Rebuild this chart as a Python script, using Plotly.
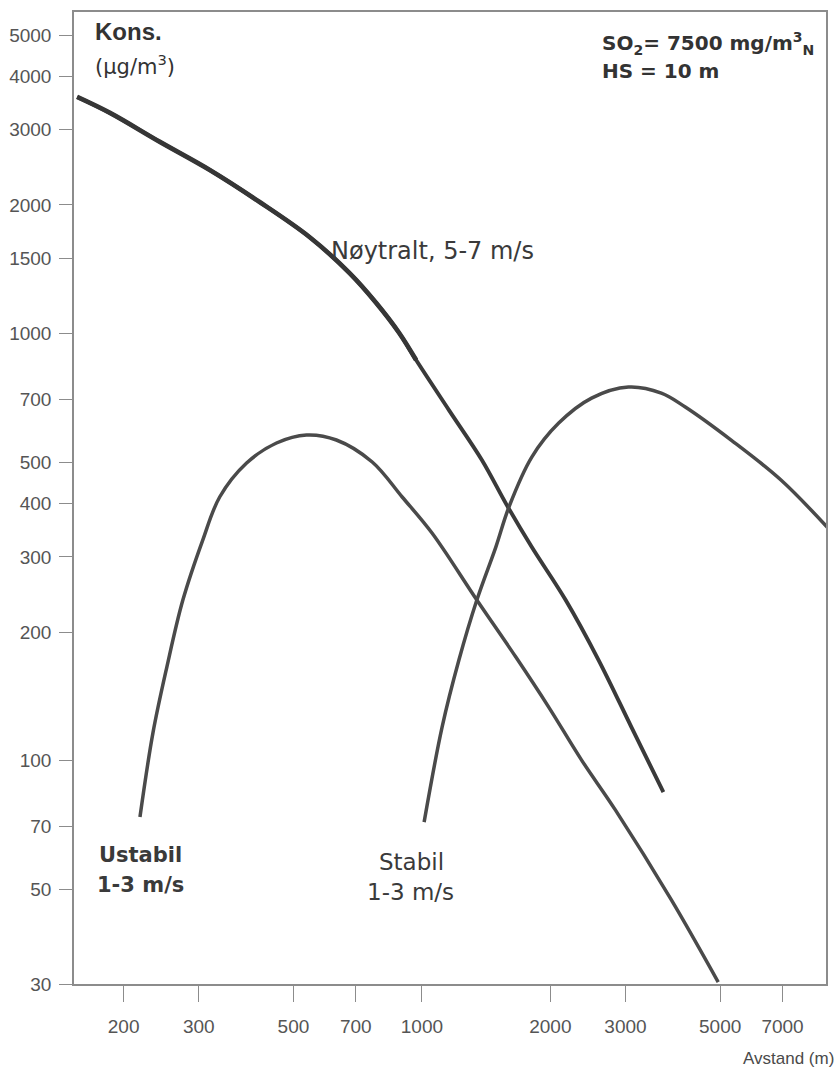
import plotly.graph_objects as go
import math

# --- data ---
noytralt_x = [155.6, 185.8, 243.2, 318.3, 416.6, 545.1, 676, 781.6, 884.6, 969.2, 1157, 1382, 1581, 1809, 2172, 2594, 3097, 3680]
noytralt_y = [3581, 3285, 2810, 2415, 2032, 1683, 1387, 1179, 1003, 867, 662, 505.8, 396.6, 316.3, 237.7, 172, 119.8, 84.4]

ustabil_x = [218.4, 234.2, 252.5, 275.3, 306.5, 335.8, 388.3, 456.3, 536.4, 630.3, 764.8, 898.9, 1056, 1345, 1660, 1982, 2367, 2842, 3842, 4947]
ustabil_y = [73.8, 116, 165.6, 237.7, 328.5, 414.3, 497.6, 554.2, 578.7, 563.3, 500.3, 414.3, 341.1, 237.7, 174.8, 133.5, 100.3, 76.6, 47.2, 30.3]

stabil_x = [1012, 1115, 1221, 1345, 1490, 1599, 1809, 2092, 2498, 3048, 3640, 4142, 5305, 6941, 9036]
stabil_y = [71.8, 119.8, 172, 237.7, 316.3, 392.3, 513.7, 617, 706, 749.5, 725.5, 673, 563, 454, 346.7]

x_ticks = [200, 300, 500, 700, 1000, 2000, 3000, 5000, 7000]
y_ticks = [30, 50, 70, 100, 200, 300, 400, 500, 700, 1000, 1500, 2000, 3000, 4000, 5000]

x_range = [153, 8850]
y_range = [30, 5660]

# --- layout geometry (page pixels) ---
SANS = "Liberation Sans, Arial, sans-serif"
WIDE = "DejaVu Sans, Verdana, sans-serif"
W, H = 836, 1070
PL, PR, PT, PB = 74, 828, 12, 984          # plot area in page pixels

def px(xp):
    return (xp - PL) / (PR - PL)

def py(yp):
    return (PB - yp) / (PB - PT)

THICK_N = 10  # upper, heavier-inked part of the neutral curve
fig = go.Figure()
fig.add_trace(go.Scatter(x=noytralt_x, y=noytralt_y, mode="lines",
                         line=dict(color="#3a3a3a", width=3.9, shape="spline", smoothing=1.0)))
fig.add_trace(go.Scatter(x=noytralt_x[:THICK_N], y=noytralt_y[:THICK_N], mode="lines",
                         line=dict(color="#363636", width=4.7, shape="spline", smoothing=1.0)))
fig.add_trace(go.Scatter(x=ustabil_x, y=ustabil_y, mode="lines",
                         line=dict(color="#4a4a4a", width=3.5, shape="spline", smoothing=1.0)))
fig.add_trace(go.Scatter(x=stabil_x, y=stabil_y, mode="lines",
                         line=dict(color="#4a4a4a", width=3.5, shape="spline", smoothing=1.0)))

ax_common = dict(showgrid=False, zeroline=False, showline=True, linecolor="#8c8c8c",
                 linewidth=1.5, mirror=True, ticks="outside", tickcolor="#8c8c8c",
                 tickwidth=1.2, tickfont=dict(family=SANS, size=19, color="#555555"))

fig.update_xaxes(type="log", range=[math.log10(x_range[0]), math.log10(x_range[1])],
                 tickvals=x_ticks, ticktext=[str(v) for v in x_ticks],
                 ticklen=16, ticklabelstandoff=8, **ax_common)
fig.update_yaxes(type="log", range=[math.log10(y_range[0]), math.log10(y_range[1])],
                 tickvals=y_ticks, ticktext=[str(v) for v in y_ticks],
                 ticklen=13, ticklabelstandoff=4, **ax_common)

ann = []
def add(text, x, y, size, family=SANS, xanchor="left", color="#333333"):
    ann.append(dict(text=text, x=px(x), y=py(y),
                    xref="paper", yref="paper", xanchor=xanchor, yanchor="middle",
                    showarrow=False, font=dict(family=family, size=size, color=color)))

add("<b>Kons.</b>", 93, 31, 24)
add("(µg/m<sup>3</sup>)", 93, 65, 21, family=WIDE)
add("<b>SO<sub>2</sub>= 7500 mg/m<sup>3</sup><sub>N</sub></b>", 601, 44, 20, family=WIDE)
add("<b>HS = 10 m</b>", 601, 71, 20, family=WIDE)
add("Nøytralt, 5-7 m/s", 330, 251, 24, family=WIDE, color="#3a3a3a")
add("<b>Ustabil</b>", 141, 855, 21, family=WIDE, xanchor="center", color="#3a3a3a")
add("<b>1-3 m/s</b>", 141, 885, 21, family=WIDE, xanchor="center", color="#3a3a3a")
add("Stabil", 412, 862, 23, family=WIDE, xanchor="center", color="#3a3a3a")
add("1-3 m/s", 411, 892, 23, family=WIDE, xanchor="center", color="#3a3a3a")
add("Avstand (m)", 838, 1058, 17, xanchor="right", color="#4a4a4a")

fig.update_layout(width=W, height=H, margin=dict(l=PL, r=W - PR, t=PT, b=H - PB),
                  paper_bgcolor="white", plot_bgcolor="white", showlegend=False,
                  annotations=ann)

fig.write_html("out.html", config={"displayModeBar": False},
               post_script="document.body.style.margin='0';"
                           "document.body.style.overflow='hidden';")
